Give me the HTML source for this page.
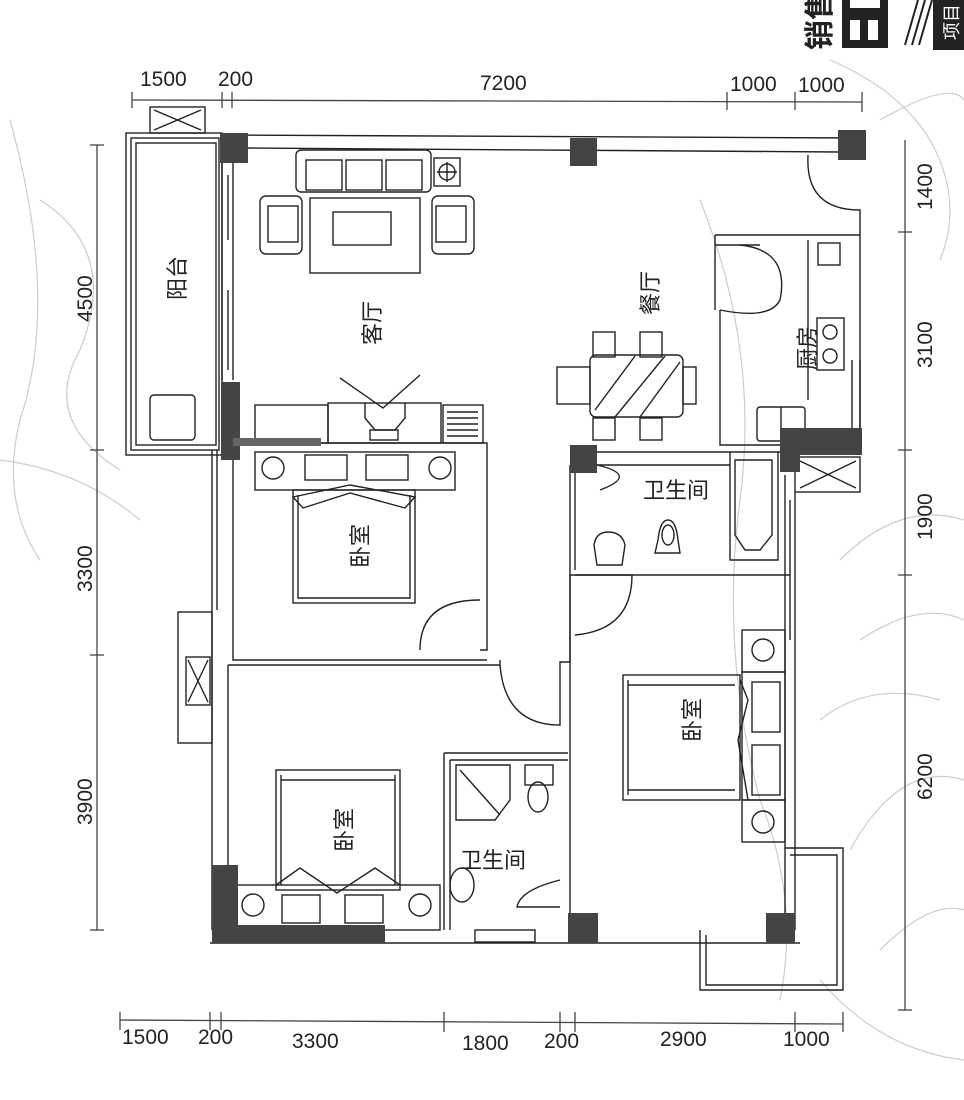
<!DOCTYPE html>
<html><head><meta charset="utf-8"><style>
html,body{margin:0;padding:0;background:#fff;width:964px;height:1100px;overflow:hidden}
svg{display:block}
text{font-family:"Liberation Sans","Noto Sans CJK SC",sans-serif;fill:#222}
.d{font-size:21px}
.c{font-size:22px}
</style></head><body>
<svg width="964" height="1100" viewBox="0 0 964 1100" xmlns="http://www.w3.org/2000/svg">
<g fill="none" stroke="#ccc" stroke-width="1.2">
<path d="M10 120 Q60 300 20 420 Q0 500 40 560"/>
<path d="M40 200 Q120 250 80 350 Q40 420 120 470"/>
<path d="M0 460 Q80 470 140 520"/>
<path d="M830 60 Q900 90 930 140 Q964 200 940 260"/>
<path d="M880 120 Q950 80 964 100"/>
<path d="M840 560 Q900 500 964 520"/>
<path d="M860 640 Q920 600 964 620"/>
<path d="M820 720 Q870 680 940 700"/>
<path d="M850 850 Q900 760 964 780"/>
<path d="M880 950 Q930 900 964 910"/>
<path d="M700 200 Q760 350 740 500 Q720 650 760 800 Q800 900 780 1000"/>
<path d="M820 980 Q880 1050 964 1060"/>
</g>
<g stroke="#444" stroke-width="1.3" fill="none">
<!-- top dim -->
<line x1="132" y1="100" x2="862" y2="102"/>
<line x1="132" y1="92" x2="132" y2="108"/><line x1="222" y1="92" x2="222" y2="108"/><line x1="232" y1="92" x2="232" y2="108"/><line x1="727" y1="92" x2="727" y2="110"/><line x1="795" y1="92" x2="795" y2="110"/><line x1="862" y1="92" x2="862" y2="112"/>
<!-- left dim -->
<line x1="97" y1="145" x2="97" y2="930"/>
<line x1="90" y1="145" x2="104" y2="145"/><line x1="90" y1="450" x2="104" y2="450"/><line x1="90" y1="655" x2="104" y2="655"/><line x1="90" y1="930" x2="104" y2="930"/>
<!-- right dim -->
<line x1="905" y1="140" x2="905" y2="1010"/>
<line x1="898" y1="232" x2="912" y2="232"/><line x1="898" y1="450" x2="912" y2="450"/><line x1="898" y1="575" x2="912" y2="575"/><line x1="898" y1="1010" x2="912" y2="1010"/>
<!-- bottom dim -->
<line x1="120" y1="1020" x2="843" y2="1024"/>
<line x1="120" y1="1012" x2="120" y2="1030"/><line x1="210" y1="1012" x2="210" y2="1030"/><line x1="221" y1="1012" x2="221" y2="1030"/><line x1="444" y1="1012" x2="444" y2="1032"/><line x1="560" y1="1012" x2="560" y2="1032"/><line x1="575" y1="1012" x2="575" y2="1032"/><line x1="795" y1="1012" x2="795" y2="1032"/><line x1="843" y1="1012" x2="843" y2="1032"/>
</g>
<g class="d">
<text x="140" y="86">1500</text><text x="218" y="86">200</text><text x="480" y="90">7200</text><text x="730" y="91">1000</text><text x="798" y="92">1000</text>
<text x="122" y="1044">1500</text><text x="198" y="1044">200</text><text x="292" y="1048">3300</text><text x="462" y="1050">1800</text><text x="544" y="1048">200</text><text x="660" y="1046">2900</text><text x="783" y="1046">1000</text>
<text transform="translate(92,322) rotate(-90)">4500</text>
<text transform="translate(92,592) rotate(-90)">3300</text>
<text transform="translate(92,825) rotate(-90)">3900</text>
<text transform="translate(932,210) rotate(-90)">1400</text>
<text transform="translate(932,368) rotate(-90)">3100</text>
<text transform="translate(932,540) rotate(-90)">1900</text>
<text transform="translate(932,800) rotate(-90)">6200</text>
</g>
<g stroke="#222" stroke-width="1.4" fill="none">
<!-- balcony left -->
<rect x="126" y="133" width="96" height="322"/><rect x="131" y="138" width="88" height="312"/><rect x="136" y="143" width="80" height="302"/>
<rect x="150" y="107" width="55" height="26"/><path d="M154 110 L201 130 M201 110 L154 130"/>
<rect x="150" y="395" width="45" height="45" rx="4"/>
<!-- top wall -->
<line x1="222" y1="135" x2="862" y2="138"/><line x1="248" y1="148" x2="838" y2="152"/>
<!-- living left wall window -->
<line x1="222" y1="162" x2="222" y2="380"/><line x1="233" y1="162" x2="233" y2="380"/><line x1="228" y1="175" x2="228" y2="240"/><line x1="228" y1="290" x2="228" y2="370"/>
<!-- sofa -->
<rect x="296" y="150" width="135" height="42" rx="5"/><rect x="306" y="160" width="36" height="30"/><rect x="346" y="160" width="36" height="30"/><rect x="386" y="160" width="36" height="30"/>
<rect x="434" y="158" width="26" height="28"/><circle cx="447" cy="172" r="8"/><path d="M437 172 H457 M447 162 V182"/>
<rect x="310" y="198" width="110" height="75"/><rect x="333" y="212" width="58" height="33"/>
<rect x="260" y="196" width="42" height="58" rx="6"/><rect x="268" y="206" width="30" height="36"/>
<rect x="432" y="196" width="42" height="58" rx="6"/><rect x="436" y="206" width="30" height="36"/>
<!-- TV cabinet -->
<rect x="255" y="405" width="73" height="38"/><rect x="328" y="403" width="113" height="40"/><rect x="443" y="405" width="40" height="38"/>
<path d="M447 412 H478 M447 418 H478 M447 424 H478 M447 430 H478 M447 436 H478"/>
<path d="M340 378 L383 408 L420 375"/><path d="M365 403 V418 L375 430 H395 L405 418 V403"/><rect x="370" y="430" width="28" height="10"/>
<!-- dining -->
<rect x="590" y="355" width="93" height="62" rx="6"/><path d="M595 410 L635 356 M615 417 L665 356 M640 417 L680 362"/>
<rect x="593" y="332" width="22" height="25"/><rect x="640" y="332" width="22" height="25"/><rect x="593" y="418" width="22" height="22"/><rect x="640" y="418" width="22" height="22"/>
<rect x="557" y="367" width="33" height="37"/><rect x="683" y="367" width="13" height="37"/>
<!-- kitchen -->
<path d="M715 235 H860 V430"/><path d="M715 245 H760"/><path d="M715 235 V310 M720 310 V445 H790"/><rect x="818" y="243" width="22" height="22"/>
<path d="M740 245 Q790 250 780 300 Q770 320 720 310"/>
<rect x="817" y="318" width="27" height="52"/><circle cx="830" cy="332" r="7"/><circle cx="830" cy="356" r="7"/>
<rect x="757" y="407" width="48" height="34" rx="3"/><line x1="781" y1="407" x2="781" y2="441"/>
<line x1="808" y1="240" x2="808" y2="400"/><line x1="852" y1="360" x2="852" y2="428"/><line x1="860" y1="360" x2="860" y2="428"/>
<!-- entrance door arc -->
<path d="M808 155 Q805 210 860 210 V235"/>
<!-- bedroom 1 -->
<path d="M240 443 H487 V650 H480"/><path d="M233 450 V660 H487"/>
<rect x="255" y="452" width="200" height="38"/><rect x="305" y="455" width="42" height="25"/><rect x="366" y="455" width="42" height="25"/>
<circle cx="273" cy="468" r="11"/><circle cx="440" cy="468" r="11"/>
<rect x="293" y="490" width="122" height="113"/><path d="M298 495 V598 H410 V495"/><path d="M293 497 L350 485 L415 497 L405 508 L350 493 L303 508 Z"/>
<path d="M420 650 Q420 600 480 600"/>
<!-- left outer wall -->
<line x1="212" y1="450" x2="212" y2="930"/><line x1="228" y1="665" x2="228" y2="930"/><line x1="217" y1="450" x2="217" y2="610"/>
<rect x="178" y="612" width="34" height="131"/><rect x="186" y="657" width="24" height="48"/><path d="M188 660 L208 702 M208 660 L188 702"/>
<!-- bedroom 2 -->
<path d="M228 665 H500 V660"/>
<rect x="276" y="770" width="124" height="120"/><path d="M281 775 V885 M395 775 V885 M281 780 H395"/>
<path d="M276 885 L300 868 L337 893 L375 868 L400 885"/>
<rect x="235" y="885" width="205" height="45"/><rect x="282" y="895" width="38" height="28"/><rect x="345" y="895" width="38" height="28"/>
<circle cx="253" cy="905" r="11"/><circle cx="420" cy="905" r="11"/>
<line x1="210" y1="943" x2="800" y2="943"/>
<!-- corridor / doors -->
<path d="M500 665 Q505 725 560 725 V662 H570 V575"/>
<path d="M575 575 H632 Q632 630 575 635"/>
<line x1="570" y1="575" x2="570" y2="930"/>
<path d="M560 880 Q520 890 517 907 H560"/>
<!-- bath 2 -->
<path d="M444 753 H568 M444 753 V930 M450 760 H568 M450 760 V930"/>
<path d="M456 765 H510 L510 800 L495 820 H456 Z"/><line x1="460" y1="770" x2="500" y2="815"/>
<rect x="525" y="765" width="28" height="20"/><ellipse cx="538" cy="797" rx="10" ry="15"/>
<ellipse cx="462" cy="885" rx="12" ry="17"/>
<rect x="475" y="930" width="60" height="12"/>
<!-- bath 1 -->
<path d="M597 452 H780 M597 465 H730"/><path d="M570 465 V575 H790"/><path d="M575 470 V570"/>
<path d="M730 452 V560 H778 V452"/><path d="M735 460 H772 V535 L760 550 H745 L735 535 Z"/>
<path d="M594 545 Q596 532 608 532 Q622 532 625 545 L622 565 H597 Z"/>
<path d="M658 540 Q660 520 668 520 Q676 520 678 540 L680 553 H655 Z"/><ellipse cx="668" cy="535" rx="6" ry="10"/>
<path d="M600 490 Q640 475 597 465"/>
<rect x="795" y="457" width="65" height="35"/><path d="M800 461 L856 488 M856 461 L800 488"/>
<line x1="785" y1="475" x2="785" y2="930"/><line x1="795" y1="492" x2="795" y2="930"/><line x1="790" y1="500" x2="790" y2="640"/>
<!-- bedroom 3 -->
<rect x="623" y="675" width="117" height="125"/><path d="M628 680 V795 M628 685 H735 M628 790 H735"/>
<path d="M740 680 L748 700 L738 740 L748 800"/>
<rect x="742" y="630" width="43" height="42"/><circle cx="763" cy="650" r="11"/>
<rect x="742" y="672" width="43" height="128"/><rect x="752" y="682" width="28" height="50"/><rect x="752" y="745" width="28" height="50"/>
<rect x="742" y="800" width="43" height="42"/><circle cx="763" cy="822" r="11"/>
<!-- bottom right balcony -->
<path d="M785 848 H843 V990 H700 V930"/><path d="M790 855 H837 V985 H706 V935"/>
</g>
<g fill="#444">
<rect x="220" y="133" width="28" height="30"/><rect x="570" y="138" width="27" height="28"/><rect x="838" y="130" width="28" height="30"/>
<rect x="221" y="382" width="19" height="78"/><rect x="233" y="438" width="88" height="8" fill="#666"/>
<rect x="570" y="445" width="27" height="28"/>
<path d="M780 428 H862 V455 H800 V472 H780 Z"/>
<path d="M212 865 H238 V925 H385 V943 H212 Z"/>
<rect x="568" y="913" width="30" height="30"/><rect x="766" y="913" width="29" height="30"/>
</g>
<g class="c">
<text transform="translate(185,300) rotate(-90)">阳台</text>
<text transform="translate(380,345) rotate(-90)">客厅</text>
<text transform="translate(658,315) rotate(-90)">餐厅</text>
<text transform="translate(815,370) rotate(-90)">厨房</text>
<text transform="translate(368,568) rotate(-90)">卧室</text>
<text transform="translate(352,852) rotate(-90)">卧室</text>
<text transform="translate(700,742) rotate(-90)">卧室</text>
<text x="643" y="498">卫生间</text>
<text x="460" y="868">卫生间</text>
</g>
<g>
<text transform="translate(830,50) rotate(-90)" style="font-size:30px;font-weight:bold">销售</text>
<rect x="842" y="0" width="46" height="48" fill="#222"/><rect x="850" y="20" width="10" height="20" fill="#fff"/><rect x="868" y="20" width="10" height="20" fill="#fff"/><rect x="850" y="0" width="30" height="8" fill="#fff"/>
<path d="M905 45 L918 0 M912 45 L925 0 M919 45 L932 0" stroke="#222" stroke-width="2"/>
<rect x="933" y="0" width="31" height="50" fill="#222"/>
<text transform="translate(958,40) rotate(-90)" style="font-size:18px;fill:#fff">项目</text>
</g>
</svg>
</body></html>
